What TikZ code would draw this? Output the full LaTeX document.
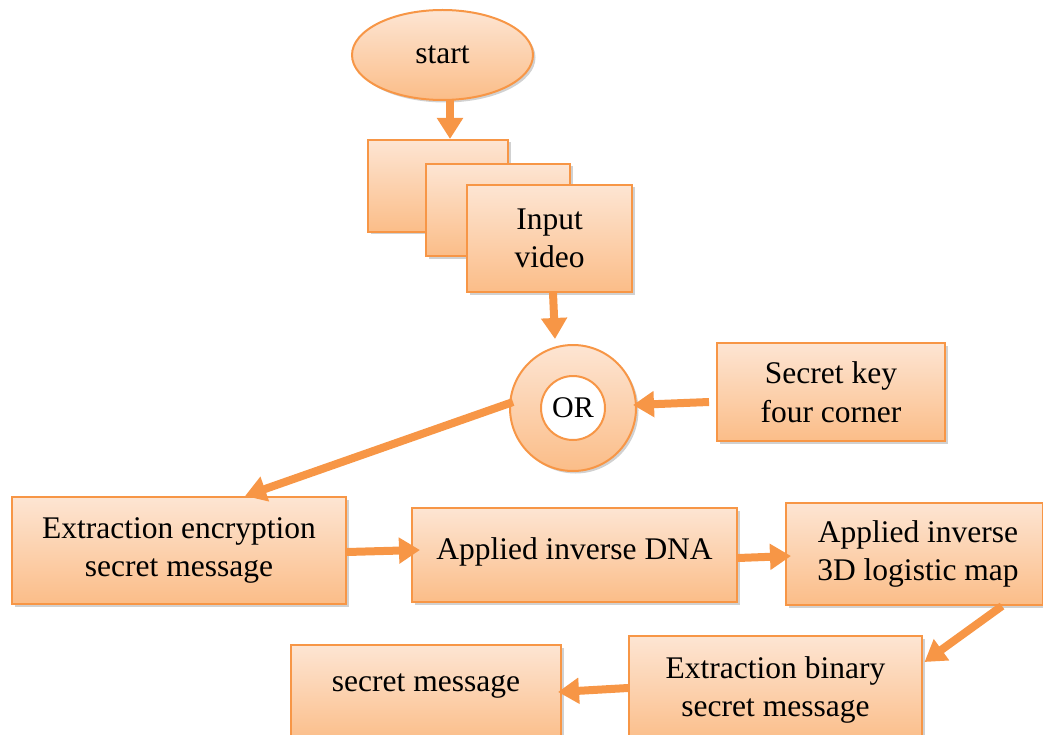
\documentclass[tikz,border=0pt]{standalone}
\usepackage{fontspec}
\setmainfont{Liberation Serif}
\usetikzlibrary{arrows.meta,shadows,calc,shapes.geometric}
\definecolor{ac}{HTML}{F79646}
\definecolor{lt}{HTML}{FDE5D3}
\definecolor{dk}{HTML}{FBBD88}
\tikzset{
  base/.style={draw=ac, line width=2pt, top color=lt, bottom color=dk,
    drop shadow={shadow xshift=2.5pt, shadow yshift=-2.5pt, opacity=0.18, fill=black},
    align=center, inner sep=0pt, text=black,
    font=\fontsize{31.5}{38.5}\selectfont},
  box/.style={base, rectangle},
  flow/.style={draw=ac, line width=8pt, -{Triangle[length=21pt,width=25pt]}, shorten >=0pt}
}
\begin{document}
\begin{tikzpicture}[x=1pt,y=-1pt]
\useasboundingbox (0,0) rectangle (1043,735);
% start
\node[base, ellipse, minimum width=181pt, minimum height=90pt] (start) at (442.5,55) {start};
% stacked frames
\node[box, minimum width=140pt, minimum height=92pt] (r1) at (438,186) {};
\node[box, minimum width=144pt, minimum height=92pt] (r2) at (498,210) {};
\node[box, minimum width=165pt, minimum height=107pt] (in) at (549.5,238.5) {\raisebox{3pt}{\parbox{150pt}{\centering Input\\video}}};
% OR donut
\node[base, circle, minimum size=126pt] (or) at (573,408) {};
\node[circle, draw=ac, line width=2pt, fill=white, minimum size=64pt, inner sep=0pt,
  font=\fontsize{30}{34}\selectfont] (ortext) at (or.center) {OR};
% key
\node[box, minimum width=228pt, minimum height=98pt] (key) at (831,392) {Secret key\\four corner};
% row 1
\node[box, minimum width=334pt, minimum height=107pt] (ext) at (179,550.5) {Extraction encryption\\secret message};
\node[box, minimum width=325pt, minimum height=94pt] (dna) at (574.5,555) {\raisebox{13pt}{Applied inverse DNA}};
\node[box, minimum width=257pt, minimum height=102pt] (map) at (914.5,554) {\hspace*{7pt}\parbox{240pt}{\centering Applied inverse\\3D logistic map}};
% row 2
\node[box, minimum width=293pt, minimum height=108pt] (bin) at (775.5,690) {Extraction binary\\secret message};
\node[box, minimum width=270pt, minimum height=98pt] (msg) at (426,694) {\raisebox{22pt}{secret message}};
% connectors
\draw[flow] ($(start.south)+(7.5,-2)$) -- ($(r1.north)+(12,0)$);
\draw[flow] ($(in.south)+(3.5,0)$) -- ($(or.north)+(-18,-5)$);
\draw[flow] ($(key.west)+(-7,10)$) -- ($(or.east)+(-4,-3)$);
\draw[flow] ($(or.west)+(4,-6)$) -- ($(ext.north)+(66,0)$);
\draw[flow] ($(ext.east)+(0,1.5)$) -- ($(dna.west)+(9,-5)$);
\draw[flow] ($(dna.east)+(0,3)$) -- ($(map.west)+(6,2)$);
\draw[flow] ($(map.south)+(87.5,0)$) -- ($(bin.east)+(1.5,-28)$);
\draw[flow] ($(bin.west)+(0,-2)$) -- ($(msg.east)+(-4,-2)$);
\end{tikzpicture}
\end{document}
